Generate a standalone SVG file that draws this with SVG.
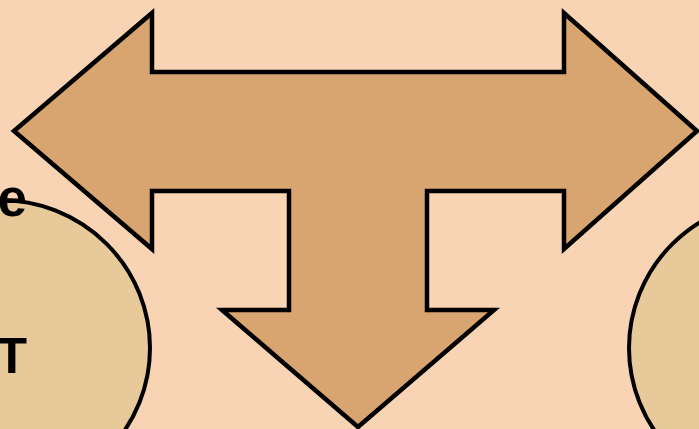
<svg xmlns="http://www.w3.org/2000/svg" width="699" height="429" viewBox="0 0 699 429">
<style>
.bg{fill:#F8D4B5}
.arrow{fill:#D8A570;stroke:#000;stroke-width:4.5;stroke-linejoin:miter}
.oval{fill:#E8C99A;stroke:#000;stroke-width:4}
.lbl{font-family:"Liberation Sans",Arial,sans-serif;font-weight:bold;fill:#000;text-anchor:end}
</style>
<rect class="bg" x="0" y="0" width="699" height="429"/>
<g id="node-left">
<ellipse class="oval" cx="0" cy="348" rx="150" ry="148"/>
<text class="lbl" x="27" y="216" font-size="53">e</text>
<text class="lbl" x="27" y="373" font-size="50">T</text>
</g>
<g id="node-right">
<ellipse class="oval" cx="779" cy="348" rx="150" ry="148"/>
</g>
<g id="node-arrow">
<polygon class="arrow" points="14,131 152,13 152,72 564,72 564,13 697,131 564,249 564,191 427,191 427,310 494,310 358,427 222,310 289,310 289,191 152,191 152,249"/>
</g>
<g id="connectors"></g>
</svg>
